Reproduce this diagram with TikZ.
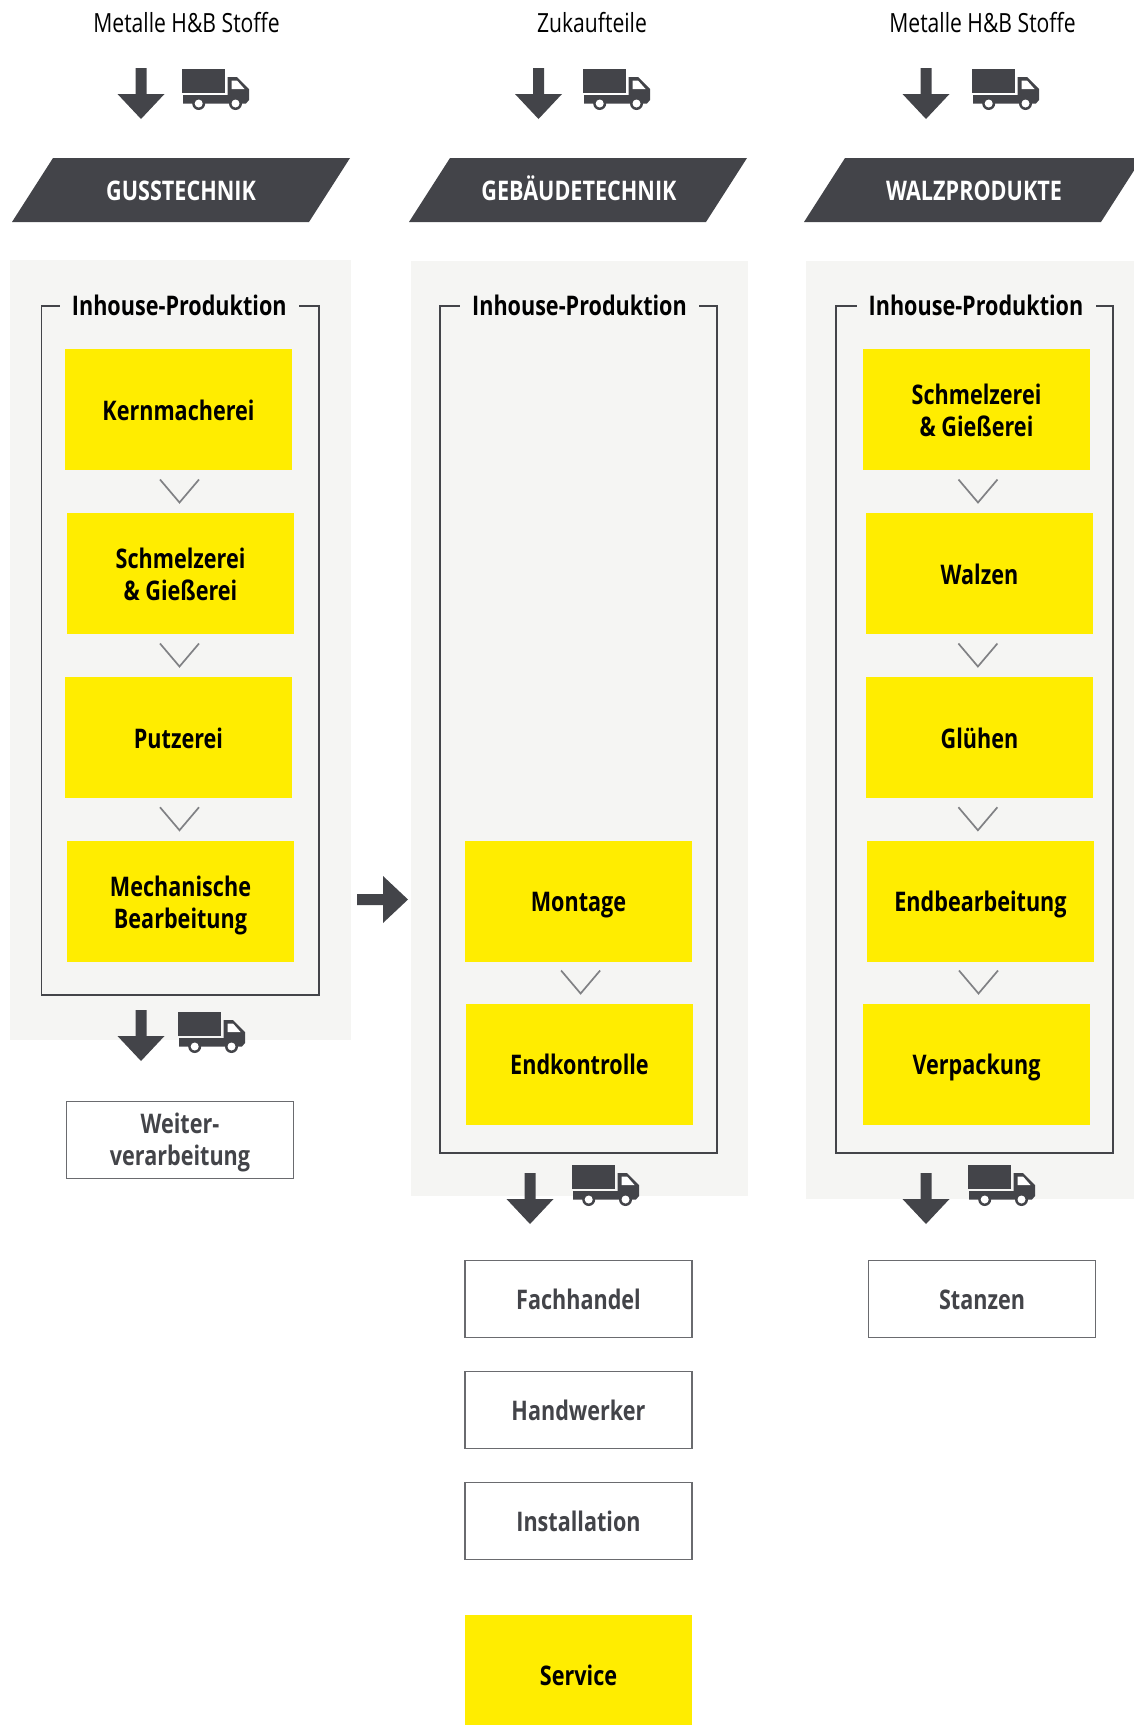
\documentclass[tikz,border=0pt]{standalone}
\usepackage{fontspec}
\setmainfont{Open Sans}[FakeStretch=0.8]
\usetikzlibrary{calc,positioning}

\definecolor{anthrazit}{HTML}{434449}
\definecolor{gelb}{HTML}{FFED00}
\definecolor{panelgrau}{HTML}{F5F5F3}
\definecolor{linegrau}{HTML}{6A6B6F}
\definecolor{chevrongrau}{HTML}{808184}

\tikzset{
  panelbox/.style={fill=panelgrau, inner sep=0pt, outer sep=0pt},
  framebox/.style={draw=anthrazit, line width=1.6pt, inner sep=0pt, outer sep=0pt},
  oneline/.style={text height=21pt, text depth=0pt},
  twoline/.style={text height=54pt, text depth=0pt},
  frametitle/.style={text height=19pt, text depth=0pt, fill=panelgrau, inner xsep=0pt, inner ysep=3pt,
    minimum width=239pt, text=black, font=\fontsize{27}{32}\selectfont\bfseries},
  yellowbox/.style={fill=gelb, minimum width=227pt, minimum height=121pt, inner sep=0pt,
    outer sep=0pt, align=center, text=black, font=\fontsize{27}{32}\selectfont\bfseries},
  whitebox/.style={draw=linegrau, line width=1.9pt, minimum width=227pt, minimum height=77pt,
    inner sep=0pt, outer sep=0pt, align=center, text=anthrazit,
    font=\fontsize{27}{32}\selectfont\bfseries},
  banner/.style={oneline, text=white, font=\fontsize{27}{30}\selectfont\bfseries},
  toplabel/.style={text=black, font=\fontsize{26.4}{30}\selectfont},
  truck/.pic={
    \fill[anthrazit] (0,0) rectangle (43,24);
    \fill[anthrazit] (1,26) -- (45.5,26) -- (45.5,8) -- (55,8) -- (67,20) -- (67,31)
      -- (64,34.5) -- (1,34.5) -- cycle;
    \fill[white] (49.5,11.5) -- (55,11.5) -- (62.5,20) -- (49.5,20) -- cycle;
    \foreach \wx in {16.7,53.5} {
      \fill[anthrazit] (\wx,34.5) circle (6.5pt);
      \fill[white] (\wx,34.5) circle (4pt);
    }
  },
  flowarrow/.pic={
    \fill[anthrazit] (-5.5,0) -- (-5.5,26) -- (-23.5,26) -- (0,51) -- (23.5,26) -- (5.5,26)
      -- (5.5,0) -- cycle;
  },
  chevron/.pic={
    \draw[chevrongrau, line width=1.7pt] (-19.5,-12) -- (0,11) -- (19.5,-12);
  }
}

\begin{document}
\begin{tikzpicture}[x=1pt,y=-1pt]
  \useasboundingbox (0,0) rectangle (1134,1725);

  % top labels
  \node[toplabel] (stoffe1) at (186.5,23) {Metalle H\&B Stoffe};
  \node[toplabel] (zukauf) at (592,23) {Zukaufteile};
  \node[toplabel] (stoffe3) at (982.5,23) {Metalle H\&B Stoffe};
  \pic at (141,68) {flowarrow};
  \pic at (182,69) {truck};
  \pic at (538.5,68) {flowarrow};
  \pic at (583,69) {truck};
  \pic at (926,68) {flowarrow};
  \pic at (972,69) {truck};

  % banners
  \fill[anthrazit] (53,158) -- (350,158) -- (309,222) -- (12,222) -- cycle;
  \fill[anthrazit] (450,158) -- (747,158) -- (706,222) -- (409,222) -- cycle;
  \fill[anthrazit] (845,158) -- (1134,158) -- (1134,170.5) -- (1101,222) -- (804,222) -- cycle;
  \node[banner] (guss) at (181,190) {GUSSTECHNIK};
  \node[banner] (gebaeude) at (579,190) {GEBÄUDETECHNIK};
  \node[banner] (walz) at (974,190) {WALZPRODUKTE};

  % grey panels
  \node[panelbox, minimum width=341pt, minimum height=780pt] (panel1) at (180.5,650) {};
  \node[panelbox, minimum width=337pt, minimum height=935pt] (panel2) at (579.5,728.5) {};
  \node[panelbox, minimum width=328pt, minimum height=938pt] (panel3) at (970,730) {};

  % frames
  \node[framebox, minimum width=277.5pt, minimum height=689pt] (frame1) at (180.3,650.5) {};
  \node[framebox, minimum width=277pt, minimum height=847pt] (frame2) at (578.5,729.5) {};
  \node[framebox, minimum width=277pt, minimum height=847pt] (frame3) at (974.5,729.5) {};
  \node[frametitle, xshift=-1pt] (title1) at (frame1.north) {Inhouse-Produktion};
  \node[frametitle, xshift=1pt] (title2) at (frame2.north) {Inhouse-Produktion};
  \node[frametitle, xshift=1.5pt] (title3) at (frame3.north) {Inhouse-Produktion};

  % Gusstechnik
  \node[yellowbox, oneline] (kern) at (178.5,409.5) {Kernmacherei};
  \node[yellowbox, twoline] (schmelz1) at (180.5,573.5) {Schmelzerei\\\& Gießerei};
  \node[yellowbox, oneline] (putz) at (178.5,737.5) {Putzerei};
  \node[yellowbox, twoline] (mech) at (180.5,901) {Mechanische\\Bearbeitung};
  \pic at ($(kern.south)!.5!(schmelz1.north)$) {chevron};
  \pic at ($(schmelz1.south)!.5!(putz.north)$) {chevron};
  \pic at ($(putz.south)!.5!(mech.north)$) {chevron};
  \pic at (141,1010) {flowarrow};
  \pic at (178,1012) {truck};
  \node[whitebox, text height=51pt, text depth=0pt] (weiter) at (180,1140) {Weiter-\\verarbeitung};

  % Gebaeudetechnik
  \node[yellowbox, oneline] (montage) at (578.5,901) {Montage};
  \node[yellowbox, oneline] (kontrolle1) at (579.5,1064) {Endkontrolle};
  \pic[xshift=1.6pt] at ($(montage.south)!.5!(kontrolle1.north)$) {chevron};
  \pic at (530,1173) {flowarrow};
  \pic at (572,1165) {truck};
  \node[whitebox, oneline] (fach) at (578.5,1299) {Fachhandel};
  \node[whitebox, oneline] (hand) at (578.5,1410) {Handwerker};
  \node[whitebox, oneline] (install) at (578.5,1521) {Installation};
  \node[yellowbox, oneline, minimum height=110pt] (service) at (578.5,1670) {\raisebox{-5pt}{Service}};

  % Walzprodukte
  \node[yellowbox, twoline] (schmelz3) at (976.5,409.5) {Schmelzerei\\\& Gießerei};
  \node[yellowbox, oneline] (walzen) at (979.5,573.5) {Walzen};
  \node[yellowbox, oneline] (gluehen) at (979.5,737.5) {Glühen};
  \node[yellowbox, oneline] (endbearb) at (980.5,901) {Endbearbeitung};
  \node[yellowbox, oneline] (verpack) at (976.5,1064) {Verpackung};
  \pic at ($(schmelz3.south)!.5!(walzen.north)$) {chevron};
  \pic[xshift=-1.6pt] at ($(walzen.south)!.5!(gluehen.north)$) {chevron};
  \pic[xshift=-2.1pt] at ($(gluehen.south)!.5!(endbearb.north)$) {chevron};
  \pic at ($(endbearb.south)!.5!(verpack.north)$) {chevron};
  \pic at (926,1173) {flowarrow};
  \pic at (968,1165) {truck};
  \node[whitebox, oneline] (stanzen) at (982,1299) {Stanzen};

  % arrow between the columns
  \pic[rotate=90] at (357,899.5) {flowarrow};
\end{tikzpicture}
\end{document}
